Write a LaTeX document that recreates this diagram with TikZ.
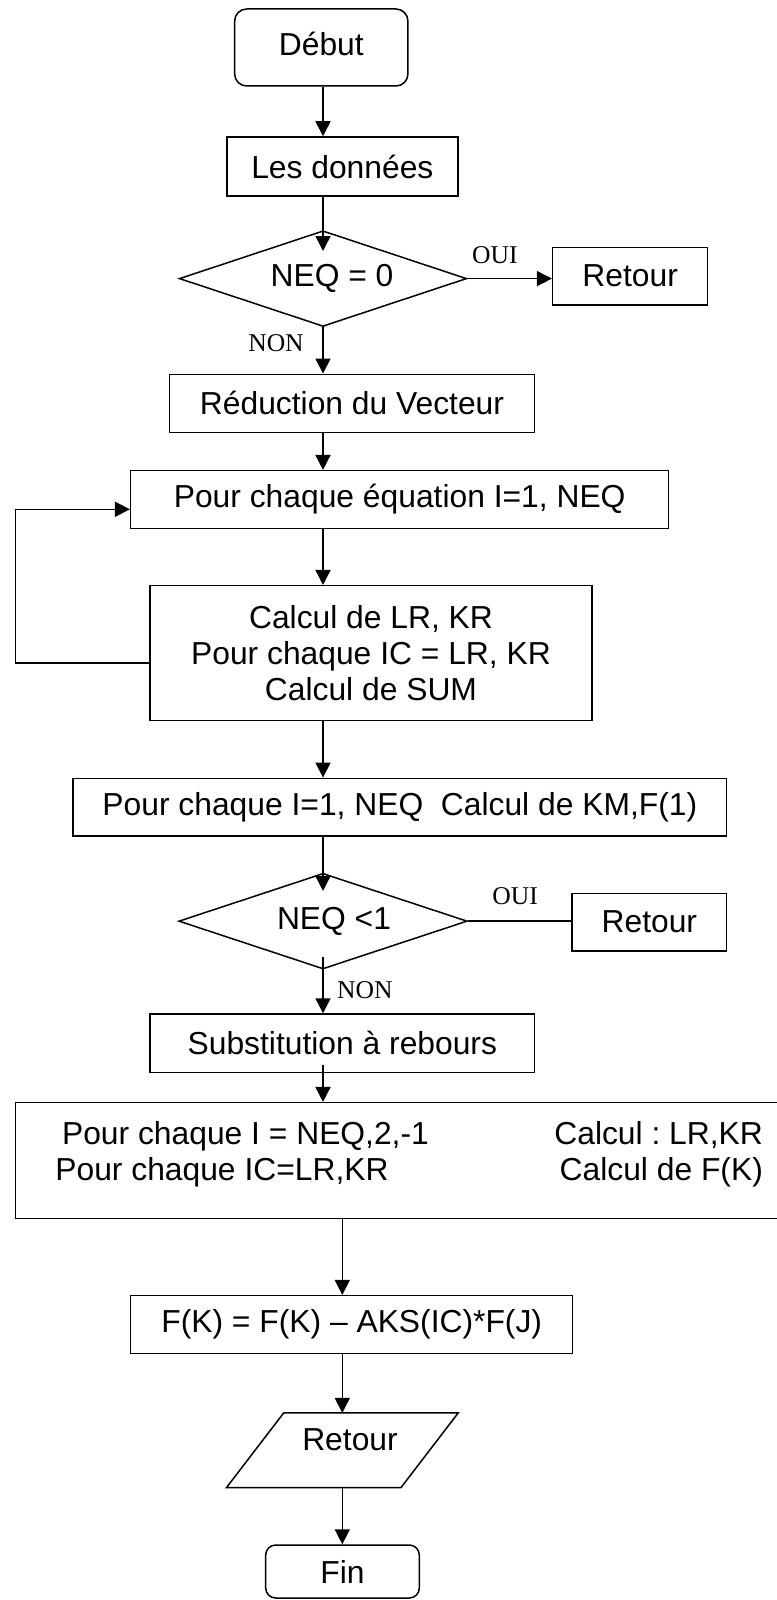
\documentclass[tikz,border=0pt]{standalone}
\usepackage{fontspec}
\setmainfont{Liberation Sans}
\newfontfamily\labelfont{Liberation Serif}
\frenchspacing
\usetikzlibrary{arrows.meta,shapes.geometric,calc}
\begin{document}
\begin{tikzpicture}[x=0.5pt,y=-0.5pt,
  every node/.style={inner sep=0pt, font=\fontsize{15.9}{18}\selectfont},
  box/.style={draw, rectangle, line width=0.75pt},
  term/.style={box, rounded corners=6pt},
  test/.style={draw, diamond, aspect=3, line width=0.75pt},
  frame/.style={rectangle},
  yesno/.style={font=\labelfont\fontsize{12.8}{14}\selectfont},
  link/.style={line width=0.75pt},
  arr/.style={link, -{Triangle[length=7.5pt,width=7.5pt]}}]

\useasboundingbox (0,0) rectangle (776,1600);

% guide lines for the vertical flow
\coordinate (spine) at (323,0);
\coordinate (spine2) at (342.3,0);
\coordinate (loopx) at (15.7,600);

% boxes
\node[term, minimum width=86.65pt, minimum height=38.5pt] (debut) at (321.3,47.5) {\raisebox{4pt}{Début}};
\node[box, minimum width=115.55pt, minimum height=29.5pt] (donnees) at (342.35,166.5) {Les données\hspace{4pt}};
\node[test, minimum width=143.7pt, minimum height=47.85pt] (d1) at (323,278.6) {\hspace{9pt}NEQ = 0};
\node[box, minimum width=77.5pt, minimum height=28.85pt] (ret1) at (630.2,276.15) {Retour};
\node[box, minimum width=182.7pt, minimum height=29.1pt] (red) at (352,403.4) {Réduction du Vecteur\hspace{10pt}};
\node[box, minimum width=269pt, minimum height=28.8pt] (pour1) at (399.7,499.5) {Pour chaque équation I=1, NEQ};
\node[box, minimum width=221pt, minimum height=67.5pt, align=center] (calc) at (371,653.2)
  {Calcul de LR, KR\\Pour chaque IC = LR, KR\\Calcul de SUM};
\node[box, minimum width=326.85pt, minimum height=28.85pt] (pourI) at (399.85,807.15)
  {Pour chaque I=1, NEQ\ \ Calcul de KM,F(1)\hspace{7pt}};
\node[test, minimum width=144.2pt, minimum height=47.85pt] (d2) at (323,921.15) {\hspace{11pt}NEQ <1};
\node[box, minimum width=77.35pt, minimum height=28.85pt] (ret2) at (649.35,922.15) {Retour};
\node[box, minimum width=192.35pt, minimum height=29.15pt] (subst) at (342.35,1043.15) {Substitution à rebours\hspace{16pt}};
\node[box, minimum width=392.15pt, minimum height=57.8pt] (big) at (407.85,1160.5) {};
\node[anchor=base west] (bl1) at (61.7,1144.7) {Pour chaque I = NEQ,2,-1};
\node[anchor=base west] (bl2) at (55,1180.7) {Pour chaque IC=LR,KR};
\node[anchor=base east] (br1) at (763.3,1144.7) {Calcul : LR,KR};
\node[anchor=base east] (br2) at (763.3,1180.7) {Calcul de F(K)};
\node[box, minimum width=221pt, minimum height=28.8pt] (fk) at (351.7,1324.5) {F(K) = F(K) – AKS(IC)*F(J)\hspace{8.4pt}};
\node[frame, minimum width=86.85pt, minimum height=37pt,
      label={[xshift=3.85pt,yshift=5.5pt]center:Retour}] (ret3) at (342.3,1450.3) {};
\draw[link] ([xshift=14.33pt]ret3.north west) -- ([xshift=14.33pt]ret3.north east)
  -- ([xshift=-14.33pt]ret3.south east) -- ([xshift=-14.33pt]ret3.south west) -- cycle;
\node[term, rounded corners=5pt, minimum width=76.8pt, minimum height=26.5pt] (fin) at (342.5,1571.5) {Fin};

% branch labels
\node[yesno] (oui1) at (494.9,255) {OUI};
\node[yesno] (non1) at (276,342.7) {NON};
\node[yesno] (oui2) at (515.2,896) {OUI};
\node[yesno] (non2) at (364.9,990) {NON};

% connectors
\draw[arr] (debut.south -| spine) -- (donnees.north -| spine);
\draw[arr] (donnees.south -| spine) -- ([yshift=-10.5pt]d1.north);
\draw[arr] (d1.east) -- (d1.east -| ret1.west);
\draw[arr] (d1.south) -- (red.north -| d1.south);
\draw[arr] (red.south -| spine) -- (pour1.north -| spine);
\draw[arr] (pour1.south -| spine) -- (calc.north -| spine);
\draw[arr] ([yshift=-4.85pt]calc.west) -| (loopx) |- ([yshift=-4.9pt]pour1.west);
\draw[arr] (calc.south -| spine) -- (pourI.north -| spine);
\draw[arr] (pourI.south -| spine) -- ([yshift=-9.2pt]d2.north);
\draw[link] (d2.east) -- (d2.east -| ret2.west);
\draw[arr] ([yshift=6.15pt]d2.south) -- (subst.north -| d2.south);
\draw[arr] ($(subst.south -| spine)+(0,-8)$) -- (big.north -| spine);
\draw[arr] (big.south -| spine2) -- (fk.north -| spine2);
\draw[arr] (fk.south -| spine2) -- (ret3.north);
\draw[arr] (ret3.south) -- (fin.north -| spine2);
\end{tikzpicture}
\end{document}
